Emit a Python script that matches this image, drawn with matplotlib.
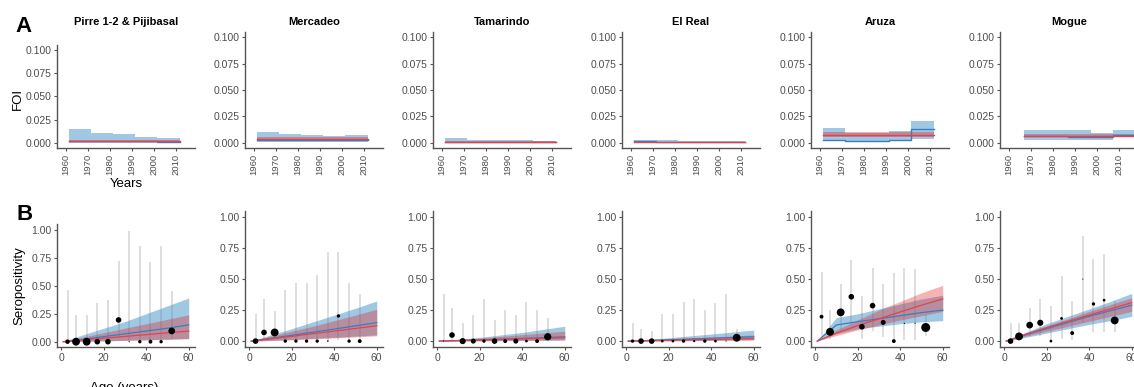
import numpy as np
import matplotlib
matplotlib.use('Agg')
import matplotlib.pyplot as plt
from matplotlib.ticker import FormatStrFormatter

plt.rcParams['font.family'] = ['Liberation Sans', 'DejaVu Sans']

SITES = ['Pirre 1-2 & Pijibasal', 'Mercadeo', 'Tamarindo', 'El Real', 'Aruza', 'Mogue']

# ---- A: force of infection per decade (blue = time-varying, red = constant)
YEAR_EDGES = [
    [1961.5, 1971.5, 1981.5, 1991.5, 2001.5, 2011.5],
    [1961.5, 1971.5, 1981.5, 1991.5, 2001.5, 2011.5],
    [1961.5, 1971.5, 1981.5, 1991.5, 2001.5, 2011.5],
    [1961.5, 1971.5, 1981.5, 1991.5, 2001.5, 2011.5],
    [1961.5, 1971.5, 1981.5, 1991.5, 2001.5, 2011.5],
    [1967, 1977, 1987, 1997, 2007, 2017],
]
FOI_TV_MID = [
    [0.0030, 0.0025, 0.0022, 0.0020, 0.0018],
    [0.0030, 0.0028, 0.0027, 0.0026, 0.0027],
    [0.0010, 0.0010, 0.0009, 0.0009, 0.0009],
    [0.0012, 0.0011, 0.0010, 0.0009, 0.0009],
    [0.0030, 0.0016, 0.0016, 0.0030, 0.0130],
    [0.0060, 0.0060, 0.0055, 0.0050, 0.0075],
]
FOI_TV_LO = [
    [0.0005, 0.0005, 0.0005, 0.0005, 0.0005],
    [0.0006, 0.0006, 0.0006, 0.0006, 0.0006],
    [0.0000, 0.0000, 0.0000, 0.0000, 0.0000],
    [0.0000, 0.0000, 0.0000, 0.0000, 0.0000],
    [0.0016, 0.0008, 0.0008, 0.0016, 0.0040],
    [0.0025, 0.0025, 0.0025, 0.0025, 0.0055],
]
FOI_TV_HI = [
    [0.0149, 0.0114, 0.0096, 0.0071, 0.0053],
    [0.0103, 0.0084, 0.0072, 0.0063, 0.0072],
    [0.0047, 0.0030, 0.0025, 0.0022, 0.0020],
    [0.0030, 0.0025, 0.0020, 0.0015, 0.0015],
    [0.0140, 0.0094, 0.0094, 0.0110, 0.0210],
    [0.0125, 0.0125, 0.0116, 0.0094, 0.0125],
]
FOI_CONST_MID = [0.0025, 0.0035, 0.0008, 0.0006, 0.0072, 0.0065]
FOI_CONST_LO = [0.0018, 0.0016, 0.0003, 0.0003, 0.0053, 0.0050]
FOI_CONST_HI = [0.0035, 0.0056, 0.0015, 0.0010, 0.0100, 0.0080]

# ---- B: observed seropositivity by age group
AGE_GROUPS = [3, 7, 12, 17, 22, 27, 32, 37, 42, 47, 52]
SERO_OBS = [
    [0, 0, 0, 0, 0, 0.194, 0, 0, 0, 0, 0.096],
    [0, 0.07, 0.07, 0, 0, 0, 0, 0, 0.203, 0, 0],
    [0, 0.049, 0, 0, 0, 0, 0, 0, 0, 0, 0.035],
    [0, 0, 0, 0, 0, 0, 0, 0, 0, 0, 0.027],
    [0.197, 0.075, 0.232, 0.358, 0.116, 0.286, 0.151, 0, 0.143, 0.143, 0.11],
    [0, 0.038, 0.129, 0.148, 0, 0.183, 0.065, 0.5, 0.3, 0.33, 0.167],
]
SERO_LO = [
    [0, 0, 0, 0, 0, 0.03, 0, 0, 0, 0, 0.025],
    [0, 0.01, 0.02, 0, 0, 0, 0, 0, 0.01, 0, 0],
    [0, 0.005, 0, 0, 0, 0, 0, 0, 0, 0, 0.01],
    [0, 0, 0, 0, 0, 0, 0, 0, 0, 0, 0.005],
    [0.02, 0.02, 0.09, 0.14, 0.02, 0.08, 0.03, 0, 0.005, 0.005, 0.04],
    [0, 0.005, 0.04, 0.04, 0, 0.02, 0.005, 0.15, 0.07, 0.07, 0.07],
]
SERO_HI = [
    [0.457, 0.24, 0.24, 0.343, 0.373, 0.72, 0.99, 0.85, 0.71, 0.85, 0.448],
    [0.22, 0.34, 0.24, 0.41, 0.47, 0.47, 0.535, 0.72, 0.72, 0.47, 0.38],
    [0.377, 0.264, 0.143, 0.21, 0.34, 0.17, 0.25, 0.21, 0.313, 0.25, 0.183],
    [0.143, 0.097, 0.084, 0.218, 0.218, 0.313, 0.34, 0.25, 0.31, 0.377, 0.097],
    [0.56, 0.25, 0.46, 0.655, 0.364, 0.59, 0.46, 0.55, 0.59, 0.58, 0.21],
    [0.148, 0.143, 0.264, 0.337, 0.283, 0.526, 0.323, 0.85, 0.66, 0.70, 0.323],
]
SAMPLE_N = [
    [16, 49, 49, 25, 25, 25, 1, 9, 12, 9, 36],
    [25, 25, 49, 9, 9, 9, 9, 2, 9, 9, 12],
    [1, 25, 30, 20, 9, 25, 12, 20, 6, 12, 42],
    [9, 25, 25, 6, 6, 9, 4, 9, 6, 1, 49],
    [12, 49, 49, 25, 25, 25, 20, 12, 1, 1, 64],
    [25, 49, 36, 30, 6, 6, 12, 1, 9, 6, 49],
]

# ---- B: fitted seroprevalence curves
AGE_FIT = [1, 10, 20, 30, 40, 50, 60]
FIT_TV_MID = [
    [0, 0.02, 0.045, 0.07, 0.095, 0.12, 0.15],
    [0, 0.022, 0.047, 0.072, 0.097, 0.123, 0.149],
    [0, 0.005, 0.01, 0.016, 0.022, 0.028, 0.035],
    [0, 0.005, 0.011, 0.017, 0.023, 0.029, 0.035],
    [0, 0.13, 0.157, 0.18, 0.205, 0.23, 0.25],
    [0, 0.05, 0.1, 0.15, 0.2, 0.245, 0.29],
]
FIT_TV_LO = [
    [0, 0.003, 0.007, 0.012, 0.017, 0.023, 0.03],
    [0, 0.006, 0.013, 0.022, 0.03, 0.04, 0.05],
    [0, 0.001, 0.002, 0.003, 0.004, 0.006, 0.008],
    [0, 0.001, 0.003, 0.005, 0.007, 0.009, 0.012],
    [0, 0.06, 0.1, 0.12, 0.14, 0.155, 0.165],
    [0, 0.03, 0.065, 0.1, 0.135, 0.165, 0.2],
]
FIT_TV_HI = [
    [0, 0.06, 0.12, 0.18, 0.25, 0.32, 0.39],
    [0, 0.05, 0.1, 0.155, 0.21, 0.265, 0.324],
    [0, 0.015, 0.03, 0.05, 0.07, 0.095, 0.12],
    [0, 0.013, 0.027, 0.042, 0.057, 0.073, 0.089],
    [0, 0.19, 0.22, 0.26, 0.3, 0.34, 0.37],
    [0, 0.07, 0.14, 0.2, 0.26, 0.32, 0.385],
]
FIT_CONST_MID = [
    [0, 0.015, 0.031, 0.047, 0.063, 0.079, 0.095],
    [0, 0.018, 0.038, 0.06, 0.081, 0.102, 0.124],
    [0, 0.004, 0.008, 0.013, 0.018, 0.022, 0.027],
    [0, 0.003, 0.006, 0.01, 0.013, 0.017, 0.02],
    [0, 0.065, 0.125, 0.18, 0.235, 0.29, 0.34],
    [0, 0.055, 0.108, 0.16, 0.21, 0.26, 0.31],
]
FIT_CONST_LO = [
    [0, 0.004, 0.008, 0.012, 0.016, 0.02, 0.025],
    [0, 0.004, 0.01, 0.018, 0.026, 0.034, 0.042],
    [0, 0.001, 0.003, 0.005, 0.006, 0.008, 0.01],
    [0, 0.001, 0.002, 0.003, 0.005, 0.006, 0.008],
    [0, 0.045, 0.09, 0.13, 0.17, 0.205, 0.24],
    [0, 0.04, 0.08, 0.12, 0.16, 0.2, 0.24],
]
FIT_CONST_HI = [
    [0, 0.04, 0.08, 0.12, 0.16, 0.2, 0.24],
    [0, 0.04, 0.08, 0.12, 0.165, 0.21, 0.257],
    [0, 0.012, 0.025, 0.038, 0.052, 0.066, 0.08],
    [0, 0.008, 0.016, 0.025, 0.033, 0.042, 0.05],
    [0, 0.09, 0.17, 0.25, 0.32, 0.39, 0.45],
    [0, 0.065, 0.125, 0.18, 0.24, 0.295, 0.35],
]

# colours
BLUE_FILL = '#4292c6'
BLUE_LINE = '#3a7dc0'
RED_FILL = '#e41a1c'
RED_LINE = '#e8414a'
AXIS_COL = '#555555'
TICK_TXT = '#4d4d4d'

W, H = 1134, 387
fig = plt.figure(figsize=(W / 100, H / 100), dpi=100)


def add_axes_px(left, top, right, bottom):
    return fig.add_axes([left / W, 1 - bottom / H, (right - left) / W, (bottom - top) / H])


def style(ax):
    for s in ['top', 'right']:
        ax.spines[s].set_visible(False)
    for s in ['left', 'bottom']:
        ax.spines[s].set_color(AXIS_COL)
        ax.spines[s].set_linewidth(1.0)
    ax.tick_params(direction='out', length=2.5, width=0.8, color=AXIS_COL,
                   labelcolor=TICK_TXT, labelsize=7.5, pad=1.5)


LEFTS = [57, 245, 433, 622, 811, 1000]
PW = 138

for i, site in enumerate(SITES):
    left = LEFTS[i]
    # --- FOI panel
    top_a = 45 if i == 0 else 32
    ax = add_axes_px(left, top_a, left + PW, 148)
    edges = YEAR_EDGES[i]
    hi = FOI_TV_HI[i] + [FOI_TV_HI[i][-1]]
    lo = FOI_TV_LO[i] + [FOI_TV_LO[i][-1]]
    mid = FOI_TV_MID[i] + [FOI_TV_MID[i][-1]]
    ax.fill_between(edges, lo, hi, step='post', color=BLUE_FILL, alpha=0.5, lw=0)
    ax.fill_between([edges[0], edges[-1]], FOI_CONST_LO[i], FOI_CONST_HI[i],
                    color=RED_FILL, alpha=0.35, lw=0)
    ax.step(edges, mid, where='post', color=BLUE_LINE, lw=1.0)
    ax.plot([edges[0], edges[-1]], [FOI_CONST_MID[i]] * 2, color=RED_LINE, lw=1.0)
    ax.set_xlim(1956, 2018.5)
    ax.set_ylim(-0.005, 0.105)
    ax.set_xticks([1960, 1970, 1980, 1990, 2000, 2010])
    ax.set_yticks([0, 0.025, 0.05, 0.075, 0.1])
    ax.yaxis.set_major_formatter(FormatStrFormatter('%.3f'))
    style(ax)
    ax.tick_params(axis='x', labelrotation=90, labelsize=6.8)
    fig.text((left + PW / 2) / W, 1 - 22 / H, site, ha='center', va='center',
             fontsize=8, fontweight='bold', color='black')

    # --- seropositivity panel
    top_b = 224 if i == 0 else 211
    bx = add_axes_px(left, top_b, left + PW, 347.3)
    bx.vlines(AGE_GROUPS, SERO_LO[i], SERO_HI[i], color='#d4d4d4', lw=1.1, zorder=1)
    bx.fill_between(AGE_FIT, FIT_TV_LO[i], FIT_TV_HI[i], color=BLUE_FILL, alpha=0.5, lw=0, zorder=2)
    bx.fill_between(AGE_FIT, FIT_CONST_LO[i], FIT_CONST_HI[i], color=RED_FILL, alpha=0.33, lw=0, zorder=3)
    bx.plot(AGE_FIT, FIT_TV_MID[i], color=BLUE_LINE, lw=0.9, zorder=4)
    bx.plot(AGE_FIT, FIT_CONST_MID[i], color=RED_LINE, lw=0.9, zorder=4)
    bx.scatter(AGE_GROUPS, SERO_OBS[i], s=np.array(SAMPLE_N[i]) * 0.65,
               color='black', lw=0, zorder=5)
    bx.set_xlim(-1.95, 62.95)
    bx.set_ylim(-0.05, 1.05)
    bx.set_xticks([0, 20, 40, 60])
    bx.set_yticks([0, 0.25, 0.5, 0.75, 1.0])
    bx.yaxis.set_major_formatter(FormatStrFormatter('%.2f'))
    style(bx)

# axis titles and panel letters
fig.text(18 / W, 1 - 99 / H, 'FOI', rotation=90, ha='center', va='center', fontsize=9.5)
fig.text(126 / W, 1 - 184 / H, 'Years', ha='center', va='center', fontsize=9.5)
fig.text(19 / W, 1 - 286 / H, 'Seropositivity', rotation=90, ha='center', va='center', fontsize=9.5)
fig.text(124 / W, 1 - 382 / H, 'Age (years)', ha='center', va='top', fontsize=9.5)
fig.text(24 / W, 1 - 26 / H, 'A', ha='center', va='center', fontsize=16, fontweight='bold')
fig.text(25 / W, 1 - 215 / H, 'B', ha='center', va='center', fontsize=16, fontweight='bold')

fig.savefig('out.png', dpi=100)
